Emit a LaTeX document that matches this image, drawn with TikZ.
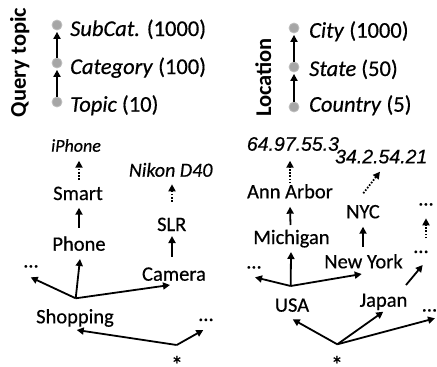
\documentclass[tikz,border=0pt]{standalone}
\usepackage{fontspec}
\setmainfont{Carlito}
\newfontfamily\ipfont{Liberation Sans}
\usetikzlibrary{arrows.meta}
\definecolor{lvlgray}{HTML}{A6A6A6}
\definecolor{lvledge}{HTML}{BEBEBE}
\newcommand\heavier{\addfontfeature{FakeBold=0.5}}
\tikzset{
  lbl/.style={font=\fontsize{20.5}{24}\selectfont\heavier, inner sep=0pt, anchor=base},
  rootstar/.style={font=\fontsize{24}{28}\selectfont\heavier, inner sep=0pt, anchor=base},
  hdr/.style={font=\fontsize{22.5}{26}\selectfont\heavier, inner sep=0pt, anchor=base west},
  dimtitle/.style={font=\fontsize{22.5}{26}\selectfont\bfseries, inner sep=0pt, anchor=base, rotate=90},
  ipaddr/.style={font=\fontsize{19.5}{23}\selectfont\ipfont\itshape\heavier, inner sep=0pt, anchor=base west},
  lvl/.style={circle, fill=lvlgray, draw=lvledge, line width=0.8pt, minimum size=10pt, inner sep=0pt},
  arr/.style={line width=1.8pt, -{Triangle[length=7pt,width=7pt]}},
  darr/.style={arr, dash pattern=on 1.6pt off 1.6pt},
}
\begin{document}
\begin{tikzpicture}[x=1pt,y=-1pt]
\useasboundingbox (0,0) rectangle (437,367);

% ---------- hierarchy legends ----------
\node[dimtitle] (qt) at (26,62.5) {Query topic};
\node[lvl] (q1) at (57,25) {};
\node[lvl] (q2) at (57,63) {};
\node[lvl] (q3) at (57,102) {};
\node[hdr] (q1t) at (70,36) {\textit{SubCat.} (1000)};
\node[hdr] (q2t) at (70,74) {\textit{Category} (100)};
\node[hdr] (q3t) at (70,111.7) {\textit{Topic} (10)};
\draw[arr, shorten >=1.5pt] (q3) -- (q2);
\draw[arr, shorten >=1.5pt] (q2) -- (q1);

\node[dimtitle] (lt) at (271,77.5) {Location};
\node[lvl] (l1) at (294,28) {};
\node[lvl] (l2) at (294,67) {};
\node[lvl] (l3) at (294,107) {};
\node[hdr] (l1t) at (309,37.7) {\textit{City} (1000)};
\node[hdr] (l2t) at (309,76) {\textit{State} (50)};
\node[hdr] (l3t) at (309,111.7) {\textit{Country} (5)};
\draw[arr, shorten >=1.5pt] (l3) -- (l2);
\draw[arr, shorten >=1.5pt] (l2) -- (l1);

% ---------- query topic tree ----------
\node[rootstar] (starL) at (177,362) {\raisebox{-11pt}{*}};
\node[lbl] (shop) at (75,323.3) {Shopping};
\node[lbl] (dotsLR) at (206,321) {…};
\node[lbl] (dotsLL) at (31,267.5) {…};
\node[lbl] (phone) at (79,250.7) {Phone};
\node[lbl] (smart) at (78,200) {Smart};
\node[lbl, font=\fontsize{18}{21}\selectfont\itshape\heavier] (iphone) at (76,151.7) {iPhone};
\node[lbl] (camera) at (174,280.7) {Camera};
\node[lbl] (slr) at (171.7,231) {SLR};
\node[lbl, font=\fontsize{20}{24}\selectfont\itshape\heavier] (nikon) at (170.7,176.7) {Nikon D40};

\draw[arr] ([xshift=-0.3pt,yshift=17pt]starL.base) -- ([xshift=1.7pt,yshift=-6.7pt]shop.base);
\draw[arr] ([xshift=-0.3pt,yshift=17pt]starL.base) -- ([xshift=-2.7pt,yshift=-9pt]dotsLR.base);
\draw[arr] ([xshift=0.7pt,yshift=25pt]shop.base) -- ([xshift=-0.3pt,yshift=-9.8pt]dotsLL.base);
\draw[arr] ([xshift=0.7pt,yshift=25pt]shop.base) -- ([xshift=1pt,yshift=-8.3pt]phone.base);
\draw[arr] ([xshift=0.7pt,yshift=25pt]shop.base) -- ([xshift=-4pt,yshift=-4.3pt]camera.base);
\draw[arr] ([yshift=23pt]phone.base) -- ([xshift=1pt,yshift=-7.7pt]smart.base);
\draw[darr] ([xshift=1pt,yshift=20pt]smart.base) -- ([xshift=3pt,yshift=-9pt]iphone.base);
\draw[arr] ([xshift=-2pt,yshift=24pt]camera.base) -- ([xshift=0.3pt,yshift=-5pt]slr.base);
\draw[darr] ([xshift=0.3pt,yshift=29.3pt]slr.base) -- ([xshift=1.3pt,yshift=-7.6pt]nikon.base);

% ---------- location tree ----------
\node[rootstar] (starR) at (337,362) {\raisebox{-11pt}{*}};
\node[lbl] (usa) at (292,311.7) {USA};
\node[lbl] (japan) at (383.5,306.7) {Japan};
\node[lbl] (dotsRR) at (429.5,311.5) {…};
\node[lbl] (dotsRL) at (254,268.5) {…};
\node[lbl] (michigan) at (291.5,244) {Michigan};
\node[lbl] (newyork) at (363.5,268.3) {New York};
\node[lbl] (annarbor) at (290,198.3) {Ann Arbor};
\node[lbl] (nyc) at (363,218.3) {NYC};
\node[lbl] (dotsRM) at (421,253) {…};
\node[lbl] (dotsRT) at (426,205.5) {…};
\node[ipaddr] (ip1) at (246.7,150.7) {64.97.55.3};
\node[ipaddr] (ip2) at (335,163.3) {34.2.54.21};

\draw[arr] ([xshift=0.3pt,yshift=17.7pt]starR.base) -- ([xshift=0.7pt,yshift=-7.6pt]usa.base);
\draw[arr] ([xshift=0.3pt,yshift=17.7pt]starR.base) -- ([xshift=-0.2pt,yshift=-5pt]japan.base);
\draw[arr] ([xshift=0.3pt,yshift=17.7pt]starR.base) -- ([xshift=5.5pt,yshift=-6.8pt]dotsRR.base);
\draw[arr] ([xshift=-1.3pt,yshift=25.7pt]usa.base) -- ([xshift=1pt,yshift=-8.8pt]dotsRL.base);
\draw[arr] ([xshift=-1.3pt,yshift=25.7pt]usa.base) -- ([xshift=-0.5pt,yshift=-8pt]michigan.base);
\draw[arr] ([xshift=-1.3pt,yshift=25.7pt]usa.base) -- ([xshift=-1.8pt,yshift=-5.7pt]newyork.base);
\draw[arr] ([xshift=-1pt,yshift=19pt]michigan.base) -- ([yshift=-8.4pt]annarbor.base);
\draw[darr] ([yshift=15pt]annarbor.base) -- ([xshift=43.3pt,yshift=-10pt]ip1.base west);
\draw[arr] ([xshift=-0.5pt,yshift=21.6pt]newyork.base) -- ([yshift=-8.4pt]nyc.base);
\draw[darr] ([xshift=0.3pt,yshift=25pt]nyc.base) -- ([xshift=45pt,yshift=-8.4pt]ip2.base west);
\draw[arr] ([xshift=22.5pt,yshift=21.7pt]japan.base) -- ([xshift=1.7pt,yshift=-12pt]dotsRM.base);
\draw[darr] ([xshift=5pt,yshift=14.7pt]dotsRM.base) -- ([yshift=-12.8pt]dotsRT.base);
\end{tikzpicture}
\end{document}
